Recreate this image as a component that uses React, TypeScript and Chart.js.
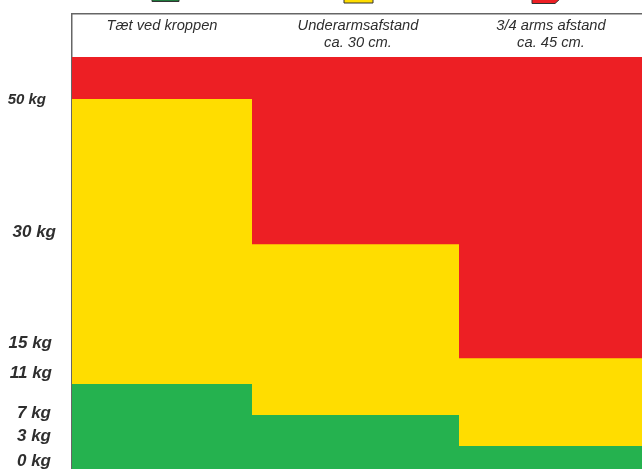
import React, { useEffect, useRef } from "react";
import { Chart, registerables } from "chart.js";

Chart.register(...registerables);

// Column edges along the x axis (arm distance zones, widths)
const columnEdges = [0, 180, 387, 570];
const columnLabels: (string | string[])[] = [
  "Tæt ved kroppen",
  ["Underarmsafstand", "ca. 30 cm."],
  ["3/4 arms afstand", "ca. 45 cm."],
];
const columnCenters = [90, 286, 479];

// Upper limit of each zone per column (kg)
const greenTop = [11.35, 7.2, 3.07];
const yellowTop = [49.4, 30.0, 14.8];
const redTop = [55, 55, 55];

const kgTicks = [0, 3, 7, 11, 15, 30, 50];
const kgLabels = ["0 kg", "3 kg", "7 kg", "11 kg", "15 kg", "30 kg", "50 kg"];
// hand-placed label nudges of the original [dx, dy] relative to the tick position
const kgNudges: [number, number][] = [
  [-21, -8], [-21, -10.5], [-21, -3.6], [-20, -13.6], [-20, -13.6], [-16, -12.3], [-26, 5],
];

const RED = "#ED1F24";
const YELLOW = "#FFDD00";
const GREEN = "#25B24F";
const AXIS = "#666666";
const TEXT = "#2E2E2E";

const steps = (tops: number[]) =>
  columnEdges.map((x, i) => ({ x, y: tops[Math.min(i, tops.length - 1)] }));

const zone = (label: string, tops: number[], color: string) => ({
  label,
  data: steps(tops),
  stepped: "before" as const,
  fill: "origin",
  backgroundColor: color,
  borderWidth: 0,
  pointRadius: 0,
});

const nudgeLabels = {
  id: "nudgeLabels",
  beforeDraw(chart: any) {
    const y = chart.scales.y;
    y.getLabelItems().forEach((item: any, i: number) => {
      if (item.__done) return;
      item.__done = true;
      const [tx, ty] = item.options.translation;
      const n = kgNudges[i];
      item.options = { ...item.options, translation: [tx + n[0], ty + n[1]] };
    });
    const x = chart.scales.x;
    x.getLabelItems().forEach((item: any) => {
      if (item.__done) return;
      item.__done = true;
      const [tx] = item.options.translation;
      item.textOffset = 0;
      item.options = { ...item.options, translation: [tx, 18.5], textBaseline: "top" };
    });
  },
};

// Bottom tips of the three hand symbols cropped by the top edge of the image
const iconTips = {
  id: "iconTips",
  afterDraw(chart: any) {
    const c = chart.ctx;
    const x = chart.scales.x;
    const tips: [number, number, number, string, number][] = [
      [93.5, 13.5, 1.5, "#1F7A3C", 0],
      [286.5, 14.5, 3, YELLOW, 0],
      [474.5, 14.5, 3.5, RED, 6],
    ];
    tips.forEach(([v, half, h, color, slant]) => {
      const px = x.getPixelForValue(v);
      c.save();
      c.fillStyle = color;
      c.strokeStyle = "#333";
      c.lineWidth = 1;
      c.beginPath();
      c.moveTo(px - half, -2);
      c.lineTo(px - half, h);
      c.lineTo(px + half - slant, h);
      c.lineTo(px + half, -2);
      c.closePath();
      c.fill();
      c.stroke();
      c.restore();
    });
  },
};

export default function App() {
  const ref = useRef<HTMLCanvasElement>(null);
  useEffect(() => {
    const chart = new Chart(ref.current!, {
      type: "line",
      data: {
        datasets: [
          zone("Grøn", greenTop, GREEN),
          zone("Gul", yellowTop, YELLOW),
          zone("Rød", redTop, RED),
        ],
      },
      plugins: [nudgeLabels, iconTips],
      options: {
        animation: false,
        responsive: false,
        devicePixelRatio: 1,
        layout: { padding: 0 },
        plugins: { legend: { display: false }, tooltip: { enabled: false } },
        scales: {
          x: {
            type: "linear",
            position: "top",
            min: 0,
            max: 570,
            z: 1,
            afterBuildTicks(s: any) {
              s.ticks = columnCenters.map((value) => ({ value }));
            },
            afterFit(s: any) {
              s.height = 14;
              s.paddingLeft = 0;
              s.paddingRight = 0;
            },
            grid: { display: false, drawTicks: false },
            border: { display: true, color: AXIS, width: 1.5 },
            ticks: {
              autoSkip: false,
              maxRotation: 0,
              minRotation: 0,
              padding: 0,
              mirror: true,
              callback: (_v: any, i: number) => columnLabels[i],
              color: TEXT,
              font: { family: "Liberation Sans", size: 14.7, style: "italic", lineHeight: 1.16 },
            },
          },
          y: {
            type: "linear",
            min: 0,
            max: 60.75,
            z: 1,
            afterBuildTicks(s: any) {
              s.ticks = kgTicks.map((value) => ({ value }));
            },
            afterFit(s: any) {
              s.width = 72;
              s.paddingTop = 0;
              s.paddingBottom = 0;
            },
            grid: { display: false, drawTicks: false },
            border: { display: true, color: AXIS, width: 1.5 },
            ticks: {
              autoSkip: false,
              padding: 0,
              callback: (_v: any, i: number) => kgLabels[i],
              color: TEXT,
              font: (ctx: any) => ({
                family: "Liberation Sans",
                size: ctx.index === 6 ? 15 : 17,
                weight: "bold",
                style: "italic",
              }),
            },
          },
        },
      },
    } as any);
    return () => chart.destroy();
  }, []);
  return (
    <canvas
      ref={ref}
      width={642}
      height={469}
      style={{ position: "absolute", left: 0, top: 0, display: "block" }}
    />
  );
}
